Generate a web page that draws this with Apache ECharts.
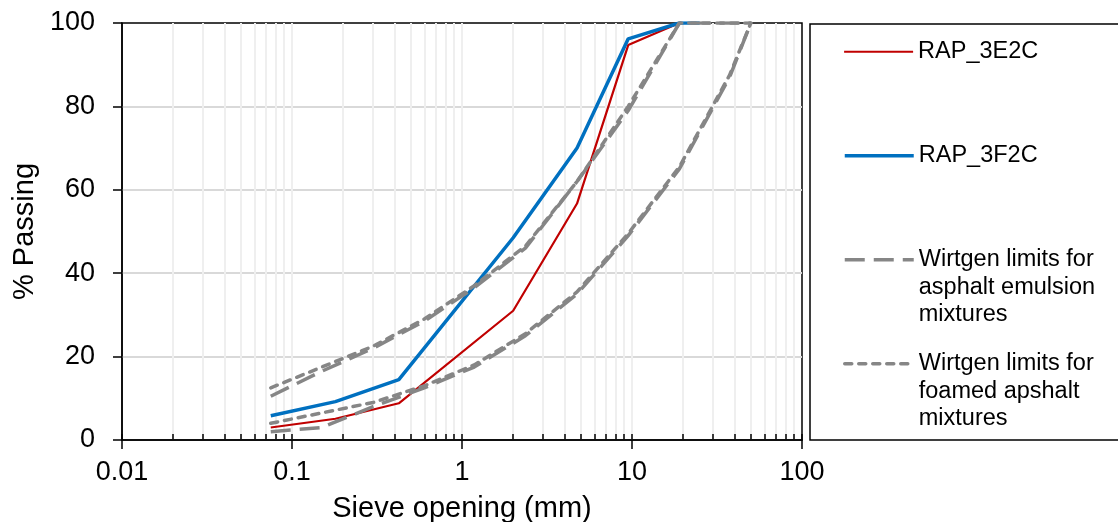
<!DOCTYPE html>
<html>
<head>
<meta charset="utf-8">
<script src="https://cdn.jsdelivr.net/npm/echarts@6/dist/echarts.min.js"></script>
<style>
  html, body { margin: 0; padding: 0; background: #fff; }
  #chart { width: 1118px; height: 522px; }
</style>
</head>
<body>
<div id="chart"></div>
<script>
    // sieve sizes (mm) and % passing
    var sieveRAP = [0.075, 0.18, 0.425, 2, 4.75, 9.5, 19, 25];
    var rap3E2C = [3, 5.1, 8.8, 31, 56.7, 94.7, 100, 100];
    var rap3F2C = [5.8, 9.2, 14.5, 48.5, 70, 96.2, 100, 100];

    var sieveLimits = [0.075, 0.15, 0.3, 0.6, 1.18, 2.36, 4.75, 9.5, 19, 37.5, 50];
    var emulsionUpper = [10.5, 16.5, 22, 28.5, 36.5, 46, 62, 79, 100, 100, 100];
    var emulsionLower = [2, 3, 8, 12.5, 17.5, 25, 35, 49, 65, 87, 100];
    var foamedUpper = [12.5, 17.5, 22.5, 29, 37, 46.5, 62, 80, 100, 100, 100];
    var foamedLower = [4, 6.5, 9, 13, 18, 25.5, 35.5, 49.5, 65.5, 87.5, 100];

    var xMajorTicks = [0.01, 0.1, 1, 10, 100];
    var xMinorTicks = [0.01, 0.02, 0.03, 0.04, 0.05, 0.06, 0.07, 0.08, 0.09,
                       0.1, 0.2, 0.3, 0.4, 0.5, 0.6, 0.7, 0.8, 0.9,
                       1, 2, 3, 4, 5, 6, 7, 8, 9,
                       10, 20, 30, 40, 50, 60, 70, 80, 90, 100];

    var nameE = 'RAP_3E2C';
    var nameF = 'RAP_3F2C';
    var nameEm = 'Wirtgen limits for\nasphalt emulsion\nmixtures';
    var nameFo = 'Wirtgen limits for\nfoamed apshalt\nmixtures';

    function pairs(xs, ys) {
        return xs.map(function (x, i) { return [x, ys[i]]; });
    }

    var font = 'Liberation Sans, Arial, sans-serif';
    var gray = '#868686';
    var longDash = [20, 9];
    var shortDash = [7, 7];

    var legendText = { fontFamily: font, fontSize: 23.5, lineHeight: 27.5, color: '#000' };
    function legendAt(name, top, multi, width) {
        return {
            data: [name], left: 843, top: top, padding: 0,
            itemWidth: 69, itemHeight: 14, selectedMode: false,
            itemStyle: { opacity: 0 },
            lineStyle: { width: width },
            textStyle: legendText,
            formatter: function (n) { return multi ? '\n\n' + n : n; }
        };
    }

    var chart = echarts.init(document.getElementById('chart'));
    chart.setOption({
        animation: false,
        grid: { left: 122, right: 316, top: 23, bottom: 82, outerBoundsMode: 'none', containLabel: false,
                show: true, borderColor: '#000', borderWidth: 1.5, backgroundColor: 'transparent' },
        legend: [
            legendAt(nameE, 38, false, 2.2),
            legendAt(nameF, 142, false, 3.5),
            legendAt(nameEm, 191, true, 3.5),
            legendAt(nameFo, 295, true, 3.5)
        ],
        graphic: [{
            type: 'rect', shape: { x: 810, y: 24, width: 330, height: 416 },
            style: { fill: 'none', stroke: '#000', lineWidth: 1.5 }
        }],
        xAxis: [{
            type: 'log', logBase: 10, min: 0.01, max: 100,
            name: 'Sieve opening (mm)', nameLocation: 'middle', nameGap: 54,
            nameTextStyle: { fontFamily: font, fontSize: 29, color: '#000' },
            axisLine: { lineStyle: { color: '#000', width: 1.5 } },
            axisTick: { customValues: xMajorTicks, length: 9, lineStyle: { color: '#000', width: 1.5 } },
            axisLabel: { customValues: xMajorTicks, margin: 19, fontFamily: font, fontSize: 27, color: '#000',
                formatter: function (v) { return String(+(+v).toPrecision(6)); } },
            splitLine: { show: true, showMinLine: false, showMaxLine: false, lineStyle: { color: '#d9d9d9', width: 2 } }
        }, {
            type: 'log', logBase: 10, min: 0.01, max: 100, position: 'bottom',
            axisLine: { show: false },
            axisTick: { customValues: xMinorTicks, inside: true, length: 6, lineStyle: { color: '#000', width: 1.5 } },
            axisLabel: { show: false },
            splitLine: { show: true, showMinLine: false, showMaxLine: false, lineStyle: { color: '#efefef', width: 2 } }
        }],
        yAxis: {
            type: 'value', min: 0, max: 100, interval: 20,
            name: '% Passing', nameLocation: 'middle', nameGap: 77,
            nameTextStyle: { fontFamily: font, fontSize: 29, color: '#000' },
            axisLine: { show: true, lineStyle: { color: '#000', width: 1.5 } },
            axisTick: { show: true, length: 9, lineStyle: { color: '#000', width: 1.5 } },
            axisLabel: { margin: 27, fontFamily: font, fontSize: 27, color: '#000' },
            splitLine: { show: true, showMinLine: false, showMaxLine: false, lineStyle: { color: '#d9d9d9', width: 2 } }
        },
        series: [
            { name: nameE, type: 'line', data: pairs(sieveRAP, rap3E2C), symbol: 'none',
              lineStyle: { color: '#c00000', width: 2.2 }, itemStyle: { color: '#c00000' } },
            { name: nameF, type: 'line', data: pairs(sieveRAP, rap3F2C), symbol: 'none',
              lineStyle: { color: '#0070c0', width: 3.5 }, itemStyle: { color: '#0070c0' } },
            { name: nameEm, type: 'line', data: pairs(sieveLimits, emulsionUpper), symbol: 'none',
              lineStyle: { color: gray, width: 3.5, type: longDash }, itemStyle: { color: gray } },
            { name: nameEm, type: 'line', data: pairs(sieveLimits, emulsionLower), symbol: 'none',
              lineStyle: { color: gray, width: 3.5, type: longDash }, itemStyle: { color: gray } },
            { name: nameFo, type: 'line', data: pairs(sieveLimits, foamedUpper), symbol: 'none',
              lineStyle: { color: gray, width: 3.5, type: shortDash, cap: 'round' }, itemStyle: { color: gray } },
            { name: nameFo, type: 'line', data: pairs(sieveLimits, foamedLower), symbol: 'none',
              lineStyle: { color: gray, width: 3.5, type: shortDash, cap: 'round' }, itemStyle: { color: gray } }
        ]
    });
</script>
</body>
</html>
